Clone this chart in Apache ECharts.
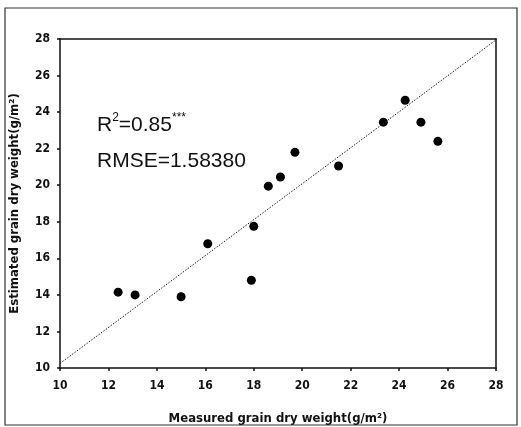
<!DOCTYPE html>
<html>
<head>
<meta charset="utf-8">
<script src="https://cdn.jsdelivr.net/npm/echarts@6/dist/echarts.min.js"></script>
<style>
  html, body { margin: 0; padding: 0; background: #fff; }
  #chart { width: 521px; height: 427px; }
</style>
</head>
<body>
<div id="chart"></div>
<script>
// measured vs estimated grain dry weight (g/m2)
const measured = [12.4, 13.1, 15.0, 16.1, 17.9, 18.0, 18.6, 19.1, 19.7, 21.5, 23.35, 24.25, 24.9, 25.6];
const estimated = [14.15, 14.0, 13.9, 16.8, 14.8, 17.75, 19.95, 20.45, 21.8, 21.05, 23.45, 24.65, 23.45, 22.4];
const fitLine = [[10, 10.25], [28, 27.95]];
const tickMin = 10;
const tickMax = 28;
const tickStep = 2;

const font = '"DejaVu Sans Condensed", "Liberation Sans", Arial, sans-serif';
const textFont = '"Liberation Sans", Arial, sans-serif';
const ink = '#111';

const chart = echarts.init(document.getElementById('chart'));

const axisCommon = {
    type: 'value',
    min: tickMin,
    max: tickMax,
    interval: tickStep,
    axisLine: { show: true, lineStyle: { color: ink, width: 1.5 } },
    axisTick: { show: true, inside: false, length: 3, lineStyle: { color: ink, width: 1.5 } },
    splitLine: { show: false },
    nameLocation: 'middle',
    nameTextStyle: { color: ink, fontFamily: font, fontWeight: 'bold', fontSize: 13 }
};

chart.setOption({
    backgroundColor: '#fff',
    animation: false,
    grid: { left: 60, right: 25, top: 39, bottom: 59, outerBoundsMode: 'none', containLabel: false },
    xAxis: [
        Object.assign({}, axisCommon, {
            name: 'Measured grain dry weight(g/m²)',
            nameGap: 44,
            axisLabel: { color: ink, fontFamily: font, fontWeight: 'bold', fontSize: 12, margin: 12 }
        }),
        Object.assign({}, axisCommon, {
            position: 'top',
            axisTick: { show: false },
            axisLabel: { show: false }
        })
    ],
    yAxis: [
        Object.assign({}, axisCommon, {
            name: 'Estimated grain dry weight(g/m²)',
            nameGap: 39,
            axisLabel: { color: ink, fontFamily: font, fontWeight: 'bold', fontSize: 12, margin: 10 }
        }),
        Object.assign({}, axisCommon, {
            position: 'right',
            axisTick: { show: false },
            axisLabel: { show: false }
        })
    ],
    graphic: [
        {
            type: 'rect',
            shape: { x: 5, y: 8, width: 512, height: 417 },
            style: { fill: 'none', stroke: '#333', lineWidth: 1.2 },
            silent: true
        },
        {
            type: 'text',
            left: 97,
            top: 112,
            style: {
                text: '{n|R}{s|2}{n|=0.85}{s|***}',
                rich: {
                    n: { fontFamily: textFont, fontSize: 21, fill: ink, verticalAlign: 'bottom', lineHeight: 24 },
                    s: { fontFamily: textFont, fontSize: 12, fill: ink, verticalAlign: 'top', lineHeight: 24, padding: [0, 0, 10, 0] }
                }
            }
        },
        {
            type: 'text',
            left: 97,
            top: 151,
            style: {
                text: 'RMSE=1.58380',
                fontFamily: textFont,
                fontSize: 21,
                fill: ink
            }
        }
    ],
    series: [
        {
            type: 'line',
            data: fitLine,
            symbol: 'none',
            lineStyle: { color: '#222', width: 1, type: [1.5, 1.5] },
            silent: true
        },
        {
            type: 'scatter',
            data: measured.map((m, i) => [m, estimated[i]]),
            symbol: 'circle',
            symbolSize: 9,
            itemStyle: { color: '#000', opacity: 1 }
        }
    ]
});
</script>
</body>
</html>
